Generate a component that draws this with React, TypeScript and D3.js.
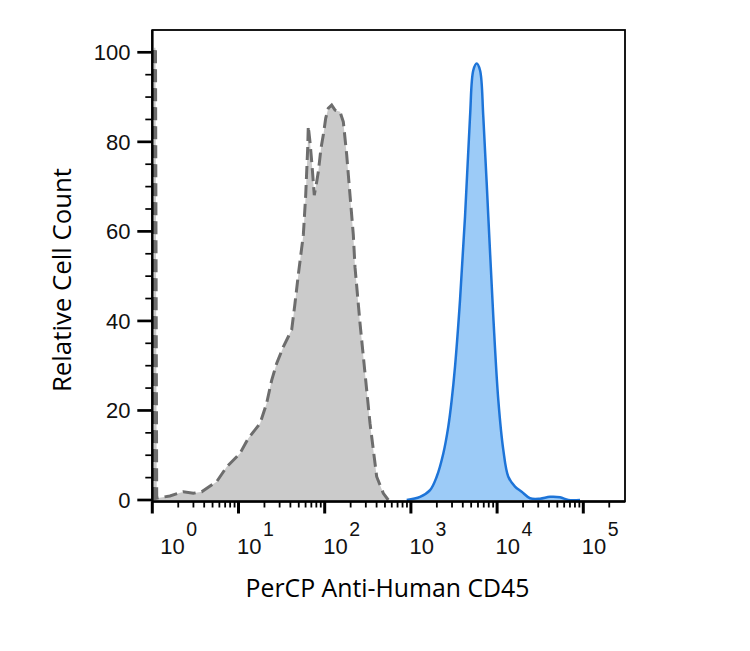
import React from 'react';
import * as d3 from 'd3';

// isotype control (grey, dashed outline): fluorescence intensity / relative count
const isotypeIntensity = [
  1.046, 1.046, 1.089, 1.125, 1.6, 2.29, 2.99, 3.74, 5.58, 7.3, 10.4, 13.0, 17.8, 21.2, 24.3, 27.7,
  33.1, 41.4, 45.2, 49.4, 56.5, 60.2, 63.5, 64.5, 67.5, 70.7, 75.7, 80.8, 84.3, 90.6, 96.3, 102.8,
  110, 120.5, 131.7, 150.6, 164.4, 180, 196.6, 214.8, 224.7, 256.8, 293.6, 335.6, 401, 478.6, 547,
];
const isotypeCount = [
  0, 101, 101, 0.4, 0.9, 1.85, 1.5, 1.85, 4.1, 7.4, 10.4, 13.8, 17.1, 21.6, 26.8, 30.5,
  34.2, 38.0, 43.9, 50.3, 59.2, 68.1, 78.6, 83.5, 80.0, 75.6, 68.1, 71.1, 73.3, 78.6, 81.5, 85.3,
  87.5, 88.2, 87.1, 86.7, 84.5, 77.1, 68.1, 59.2, 52, 39.5, 28.3, 17.1, 5.2, 1.5, 0,
];

// stained sample (blue)
const stainedIntensity = [
  894, 1276, 1667, 1991, 2377, 2716, 2973, 3250, 3715, 4245, 4851, 5297, 5797, 6337, 6918, 7907,
  9037, 10330, 11800, 13490, 16140, 19280, 24080, 31460, 41100, 53700, 67000, 91600,
];
const stainedCount = [
  0, 0.7, 2.2, 5.2, 10.4, 16.4, 22.3, 29.8, 44.7, 63.3, 85.6, 96.0, 97.5, 96.0, 85.6, 63.3,
  40.9, 22.3, 11.2, 5.2, 3.0, 1.85, 0.4, 0.3, 0.7, 0.6, 0, 0,
];

const yMajorTicks = [0, 20, 40, 60, 80, 100];
const decades = [0, 1, 2, 3, 4, 5];

const xTitle = 'PerCP Anti-Human CD45';
const yTitle = 'Relative Cell Count';

const W = 750;
const H = 651;

const App: React.FC = () => {
  const left = 152.3;
  const right = 625;
  const top = 30;
  const decadeWidth = 86.2;

  const x = d3
    .scaleLog()
    .domain([1, Math.pow(10, (right - left) / decadeWidth)])
    .range([left, right]);
  const y = d3.scaleLinear().domain([0, 100]).range([500, 52.3]);
  const bottom = y(0) + 1.5;

  const isotype: [number, number][] = isotypeIntensity.map((v, i) => [v, isotypeCount[i]]);
  const stained: [number, number][] = stainedIntensity.map((v, i) => [v, stainedCount[i]]);

  const grayArea = d3
    .area<[number, number]>()
    .x((d) => x(d[0]))
    .y0(y(0))
    .y1((d) => y(d[1]))
    .curve(d3.curveLinear);
  const grayLine = d3
    .line<[number, number]>()
    .x((d) => x(d[0]))
    .y((d) => y(d[1]))
    .curve(d3.curveLinear);

  const blueArea = d3
    .area<[number, number]>()
    .x((d) => x(d[0]))
    .y0(y(0))
    .y1((d) => y(d[1]))
    .curve(d3.curveCatmullRom.alpha(0.5));
  const blueLine = d3
    .line<[number, number]>()
    .x((d) => x(d[0]))
    .y((d) => y(d[1]))
    .curve(d3.curveCatmullRom.alpha(0.5));

  const yMinorTicks = d3.range(5, 100, 5).filter((v) => v % 20 !== 0);

  const xMinorTicks: number[] = [];
  decades.forEach((p) => {
    for (let k = 2; k <= 9; k++) {
      const v = k * Math.pow(10, p);
      if (x(v) < right - 6) xMinorTicks.push(v);
    }
  });

  const tickFont = '"Liberation Sans", Arial, sans-serif';
  const titleFont = '"Open Sans", "Noto Sans", sans-serif';

  return (
    <svg
      width={W}
      height={H}
      viewBox={`0 0 ${W} ${H}`}
      style={{ position: 'absolute', left: 0, top: 0, background: '#fff' }}
    >
      <clipPath id="plot-clip">
        <rect x={left} y={top} width={right - left} height={bottom - top} />
      </clipPath>

      <g clipPath="url(#plot-clip)">
        <path d={grayArea(isotype) ?? ''} fill="#cbcbcb" />
        <path
          d={grayLine(isotype) ?? ''}
          fill="none"
          stroke="#6d6d6d"
          strokeWidth={3}
          strokeDasharray="13,6"
        />
        <path d={blueArea(stained) ?? ''} fill="#9ccbf7" />
        <path d={blueLine(stained) ?? ''} fill="none" stroke="#1d74d8" strokeWidth={2.5} />
      </g>

      {/* frame */}
      <rect
        x={left}
        y={top}
        width={right - left}
        height={bottom - top}
        fill="none"
        stroke="#000"
        strokeWidth={1.8}
      />
      <line x1={left} x2={left} y1={top} y2={bottom} stroke="#000" strokeWidth={2.4} />
      <line x1={left} x2={right} y1={bottom} y2={bottom} stroke="#000" strokeWidth={2.4} />

      {/* y axis */}
      {yMinorTicks.map((v) => (
        <line key={`ym${v}`} x1={left - 7} x2={left} y1={y(v)} y2={y(v)} stroke="#000" strokeWidth={1.7} />
      ))}
      {yMajorTicks.map((v) => (
        <g key={`y${v}`}>
          <line x1={left - 15} x2={left} y1={y(v)} y2={y(v)} stroke="#000" strokeWidth={2.7} />
          <text
            x={130.5}
            y={y(v)}
            dy="0.36em"
            textAnchor="end"
            fontFamily={tickFont}
            fontSize={22}
            fill="#111"
          >
            {v}
          </text>
        </g>
      ))}

      {/* x axis */}
      {xMinorTicks.map((v) => (
        <line key={`xm${v}`} x1={x(v)} x2={x(v)} y1={bottom} y2={bottom + 6} stroke="#000" strokeWidth={1.8} />
      ))}
      {decades.map((p) => {
        const v = Math.pow(10, p);
        const tx = x(v);
        const lx = p === 0 ? tx + 8 : tx - 1.5;
        return (
          <g key={`x${p}`}>
            <line x1={tx} x2={tx} y1={bottom} y2={bottom + 12} stroke="#000" strokeWidth={3} />
            <text x={lx} y={554} fontFamily={tickFont} fontSize={22} fill="#111">
              10
              <tspan dx={1.5} dy={-18.5} fontSize={19.5}>
                {p}
              </tspan>
            </text>
          </g>
        );
      })}

      {/* titles */}
      <text
        x={387.5}
        y={596.7}
        textAnchor="middle"
        fontFamily={titleFont}
        fontSize={24.8}
        fill="#000"
      >
        {xTitle}
      </text>
      <text
        transform={`translate(71, 280) rotate(-90)`}
        textAnchor="middle"
        fontFamily={titleFont}
        fontSize={25.8}
        fill="#000"
      >
        {yTitle}
      </text>
    </svg>
  );
};

export default App;
